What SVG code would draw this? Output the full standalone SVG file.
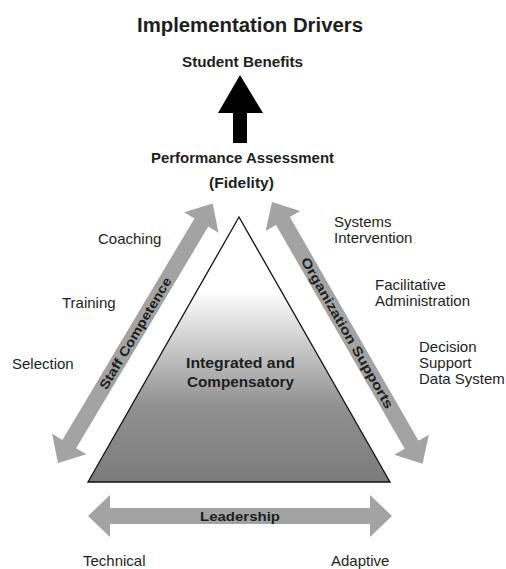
<svg xmlns="http://www.w3.org/2000/svg" width="506" height="569" viewBox="0 0 506 569">
<style>
.t{font-family:"Liberation Sans",Arial,sans-serif;fill:#1e1e1e}
.b{font-weight:bold}
.n{font-size:15px}
.m{font-size:14px}
.arr{fill:#a3a3a3}
</style>
<defs>
<linearGradient id="tri" gradientUnits="userSpaceOnUse" x1="0" y1="216" x2="0" y2="482">
<stop offset="0" stop-color="#ffffff"/>
<stop offset="0.28" stop-color="#ffffff"/>
<stop offset="0.72" stop-color="#8f8f8f"/>
<stop offset="1" stop-color="#7c7c7c"/>
</linearGradient>
<path id="dbl" d="M0,0 L22,-20 L22,-8 L280,-8 L280,-20 L302,0 L280,20 L280,8 L22,8 L22,20 Z"/>
</defs>
<rect width="506" height="569" fill="#ffffff"/>
<g id="title"><text class="t b" x="137" y="32" font-size="20" textLength="226" lengthAdjust="spacingAndGlyphs">Implementation Drivers</text></g>
<g id="student-benefits"><text class="t b m" x="182" y="67" textLength="121" lengthAdjust="spacingAndGlyphs">Student Benefits</text></g>
<g id="performance-assessment">
<text class="t b m" x="151" y="163" textLength="183" lengthAdjust="spacingAndGlyphs">Performance Assessment</text>
<text class="t b m" x="209" y="188" textLength="65" lengthAdjust="spacingAndGlyphs">(Fidelity)</text>
</g>
<g id="triangle">
<polygon points="239,217 88,482 390,482" fill="url(#tri)" stroke="#111" stroke-width="1.3"/>
<text class="t b m" x="186" y="368" textLength="109" lengthAdjust="spacingAndGlyphs">Integrated and</text>
<text class="t b m" x="187" y="387" textLength="107" lengthAdjust="spacingAndGlyphs">Compensatory</text>
</g>
<g id="connectors">
<polygon points="240,75 263,113 247,113 247,143 233,143 233,113 218,113" fill="#000"/>
<g transform="translate(58,463) rotate(-59.2)">
<use href="#dbl" class="arr"/>
<text class="t b" font-size="13" x="151" y="4.5" text-anchor="middle" textLength="128" lengthAdjust="spacingAndGlyphs">Staff Competence</text>
</g>
<g transform="translate(272,202) rotate(60.1)">
<use href="#dbl" class="arr"/>
<text class="t b" font-size="13" x="151" y="4.5" text-anchor="middle" textLength="172" lengthAdjust="spacingAndGlyphs">Organization Supports</text>
</g>
<g transform="translate(88,516)">
<path class="arr" d="M0,0 L22,-21 L22,-8 L282,-8 L282,-21 L304,0 L282,21 L282,8 L22,8 L22,21 Z"/>
<text class="t b" font-size="13" x="152" y="4.5" text-anchor="middle" textLength="80" lengthAdjust="spacingAndGlyphs">Leadership</text>
</g>
</g>
<g id="coaching"><text class="t n" x="98" y="244">Coaching</text></g>
<g id="training"><text class="t n" x="62" y="308">Training</text></g>
<g id="selection"><text class="t n" x="12" y="369">Selection</text></g>
<g id="systems-intervention">
<text class="t n" x="334" y="226.5">Systems</text>
<text class="t n" x="334" y="242.5">Intervention</text>
</g>
<g id="facilitative-administration">
<text class="t n" x="375" y="289.5">Facilitative</text>
<text class="t n" x="375" y="305.5">Administration</text>
</g>
<g id="decision-support">
<text class="t n" x="419" y="352">Decision</text>
<text class="t n" x="419" y="368">Support</text>
<text class="t n" x="419" y="384">Data System</text>
</g>
<g id="technical"><text class="t n" x="83" y="566">Technical</text></g>
<g id="adaptive"><text class="t n" x="331" y="566">Adaptive</text></g>
</svg>
